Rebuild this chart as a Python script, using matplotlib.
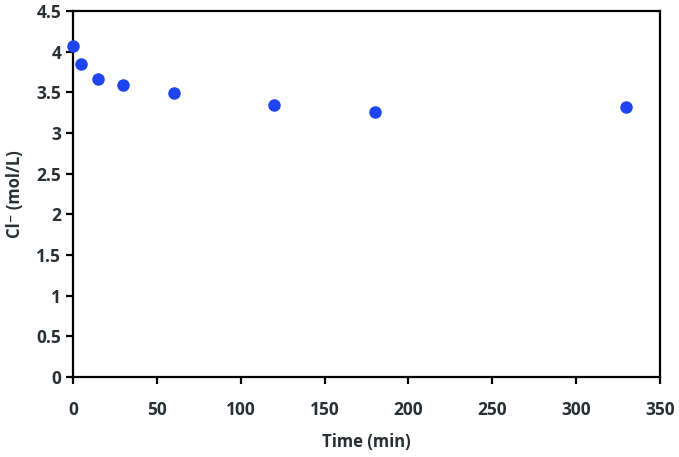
import matplotlib
matplotlib.use("Agg")
import matplotlib.pyplot as plt

time_min = [0, 5, 15, 30, 60, 120, 180, 330]
cl_conc = [4.07, 3.85, 3.66, 3.59, 3.49, 3.35, 3.26, 3.32]
x_ticks = [0, 50, 100, 150, 200, 250, 300, 350]
y_ticks = [0, 0.5, 1, 1.5, 2, 2.5, 3, 3.5, 4, 4.5]
y_ticklabels = ["0", "0.5", "1", "1.5", "2", "2.5", "3", "3.5", "4", "4.5"]

plt.rcParams['font.family'] = ['Open Sans', 'DejaVu Sans']
txt = '#2a2f33'

fig = plt.figure(figsize=(6.79, 4.57), dpi=100)
ax = fig.add_axes([0.1075, 0.175, 0.8645, 0.801])
ax.plot(time_min, cl_conc, 'o', color='#1f44f2', markersize=9, markeredgewidth=0, clip_on=False, zorder=3)
ax.set_xlim(0, 350)
ax.set_ylim(0, 4.5)
ax.set_xticks(x_ticks)
ax.set_xticklabels([str(v) for v in x_ticks])
ax.set_yticks(y_ticks)
ax.set_yticklabels(y_ticklabels)
for s in ax.spines.values():
    s.set_linewidth(1.6)
    s.set_color('black')
ax.tick_params(axis='both', direction='out', length=5, width=1.6, labelsize=12.5, colors='black', labelcolor=txt)
ax.tick_params(axis='x', pad=12)
for lab in ax.get_xticklabels() + ax.get_yticklabels():
    lab.set_fontweight('bold')
ax.set_xlabel('Time (min)', fontsize=12, fontweight='bold', color=txt, labelpad=10)
ax.set_ylabel('Cl\u207B (mol/L)', fontsize=12, fontweight='bold', color=txt, labelpad=9)
fig.savefig('out.png', dpi=100)
